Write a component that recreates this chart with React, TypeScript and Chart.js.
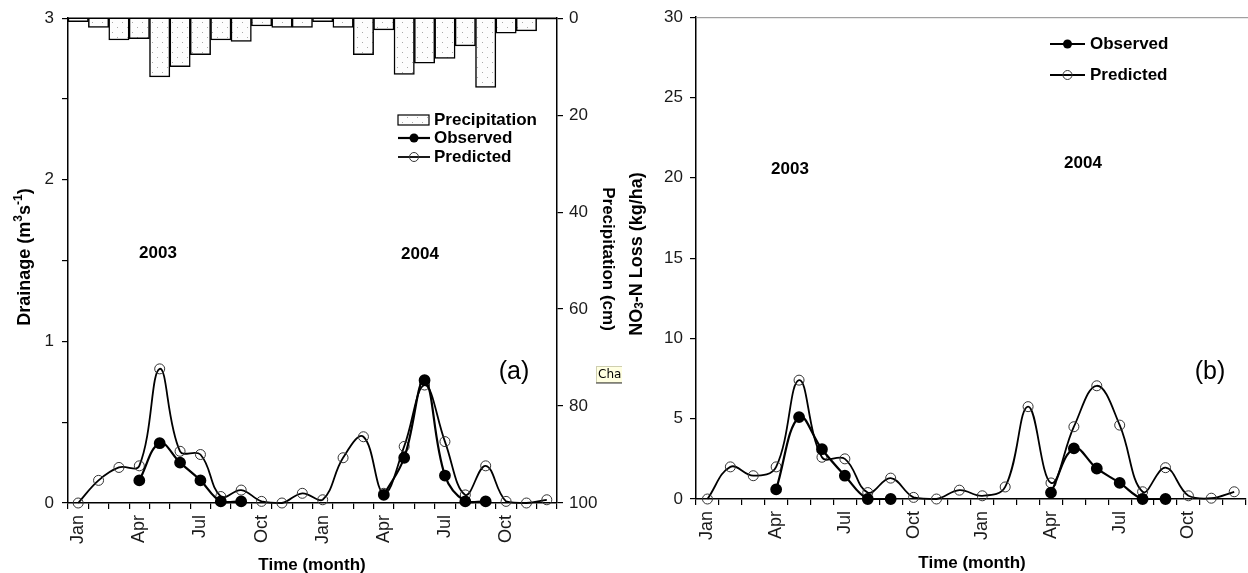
import React, { useEffect, useRef } from 'react';
import { Chart, registerables } from 'chart.js';
Chart.register(...registerables);

const categories = [
  'Jan 2003', 'Feb 2003', 'Mar 2003', 'Apr 2003', 'May 2003', 'Jun 2003',
  'Jul 2003', 'Aug 2003', 'Sep 2003', 'Oct 2003', 'Nov 2003', 'Dec 2003',
  'Jan 2004', 'Feb 2004', 'Mar 2004', 'Apr 2004', 'May 2004', 'Jun 2004',
  'Jul 2004', 'Aug 2004', 'Sep 2004', 'Oct 2004', 'Nov 2004', 'Dec 2004',
];
const tickLabels = [
  'Jan', '', '', 'Apr', '', '', 'Jul', '', '', 'Oct', '', '',
  'Jan', '', '', 'Apr', '', '', 'Jul', '', '', 'Oct', '', '',
];
const precipitation = [0.7, 1.9, 4.5, 4.2, 12.1, 10.0, 7.5, 4.5, 4.8, 1.6, 1.9, 1.9, 0.7, 1.9, 7.5, 2.4, 11.6, 9.3, 8.3, 5.7, 14.3, 3.1, 2.6, 0.2];
const drainageObserved = [null, null, null, 0.14, 0.37, 0.25, 0.14, 0.01, 0.01, null, null, null, null, null, null, 0.05, 0.28, 0.76, 0.17, 0.01, 0.01, null, null, null];
const drainagePredicted = [0.0, 0.14, 0.22, 0.23, 0.83, 0.32, 0.30, 0.04, 0.08, 0.01, 0.0, 0.06, 0.02, 0.28, 0.41, 0.06, 0.35, 0.73, 0.38, 0.05, 0.23, 0.01, 0.0, 0.02];
const no3Observed = [null, null, null, 0.6, 5.1, 3.1, 1.45, 0, 0, null, null, null, null, null, null, 0.4, 3.15, 1.9, 1.0, 0, 0, null, null, null];
const no3Predicted = [0, 2.0, 1.45, 2.0, 7.4, 2.6, 2.5, 0.4, 1.3, 0.1, 0.0, 0.55, 0.2, 0.75, 5.75, 1.0, 4.5, 7.05, 4.6, 0.45, 1.95, 0.2, 0.05, 0.45];

const FONT_FAMILY = '"Liberation Sans", Arial, Helvetica, sans-serif';
const BOLD17 = `bold 17px ${FONT_FAMILY}`;
const BOLD18 = `bold 18px ${FONT_FAMILY}`;
const BOLD12 = `bold 12px ${FONT_FAMILY}`;
const TICK_COLOR = '#1a1a1a';

function makePattern(): CanvasPattern | string {
  const c = document.createElement('canvas');
  c.width = 10;
  c.height = 10;
  const g = c.getContext('2d');
  if (!g) return '#f4f4f4';
  g.fillStyle = '#fdfdfd';
  g.fillRect(0, 0, 10, 10);
  g.fillStyle = '#a8a8a8';
  g.fillRect(2, 2, 1, 1);
  g.fillRect(7, 7, 1, 1);
  const p = g.createPattern(c, 'repeat');
  return p || '#f4f4f4';
}

type Seg = { t: string; f: string; dy?: number };
function drawSegs(ctx: CanvasRenderingContext2D, segs: Seg[], cx: number, cy: number, rot: number) {
  ctx.save();
  ctx.translate(cx, cy);
  ctx.rotate(rot);
  ctx.textBaseline = 'middle';
  ctx.textAlign = 'left';
  ctx.fillStyle = '#000';
  let total = 0;
  for (const s of segs) {
    ctx.font = s.f;
    total += ctx.measureText(s.t).width;
  }
  let x = -total / 2;
  for (const s of segs) {
    ctx.font = s.f;
    ctx.fillText(s.t, x, s.dy || 0);
    x += ctx.measureText(s.t).width;
  }
  ctx.restore();
}

function text(ctx: CanvasRenderingContext2D, t: string, x: number, y: number, font: string, align: CanvasTextAlign = 'center') {
  ctx.save();
  ctx.font = font;
  ctx.fillStyle = '#000';
  ctx.textAlign = align;
  ctx.textBaseline = 'middle';
  ctx.fillText(t, x, y);
  ctx.restore();
}

function legendLine(ctx: CanvasRenderingContext2D, x0: number, x1: number, y: number, filled: boolean) {
  ctx.save();
  ctx.strokeStyle = '#000';
  ctx.lineWidth = filled ? 2.2 : 1.8;
  ctx.beginPath();
  ctx.moveTo(x0, y);
  ctx.lineTo(x1, y);
  ctx.stroke();
  ctx.beginPath();
  ctx.arc((x0 + x1) / 2, y, 4.5, 0, Math.PI * 2);
  if (filled) {
    ctx.fillStyle = '#000';
    ctx.fill();
  } else {
    ctx.lineWidth = 1;
    ctx.strokeStyle = '#333';
    ctx.stroke();
  }
  ctx.restore();
}

export default function App() {
  const leftRef = useRef<HTMLCanvasElement>(null);
  const rightRef = useRef<HTMLCanvasElement>(null);

  useEffect(() => {
    document.body.style.margin = '0';
    const pattern = makePattern();

    const xTickFont = { family: FONT_FAMILY, size: 18 };
    const yTickFont = { family: FONT_FAMILY, size: 17 };

    const xScale = (height: number) => ({
      type: 'category' as const,
      offset: true,
      grid: { offset: true, drawOnChartArea: false, drawTicks: true, tickLength: 6, color: '#000', lineWidth: 1.2 },
      border: { color: '#000', width: 1.5 },
      ticks: {
        autoSkip: false,
        minRotation: 90,
        maxRotation: 90,
        padding: 6,
        color: TICK_COLOR,
        font: xTickFont,
        callback: (_v: any, i: number) => tickLabels[i],
      },
      afterFit: (s: any) => { s.height = height; },
    });

    const leftDecor = {
      id: 'leftDecor',
      afterDraw(chart: any) {
        const ctx: CanvasRenderingContext2D = chart.ctx;
        const ca = chart.chartArea;
        ctx.save();
        ctx.strokeStyle = '#000';
        ctx.lineWidth = 1.5;
        ctx.beginPath();
        ctx.moveTo(ca.left, ca.top);
        ctx.lineTo(ca.right, ca.top);
        ctx.stroke();
        ctx.restore();

        drawSegs(ctx, [
          { t: 'Drainage (m', f: BOLD18 },
          { t: '3', f: BOLD12, dy: -6 },
          { t: 's', f: BOLD18 },
          { t: '-1', f: BOLD12, dy: -6 },
          { t: ')', f: BOLD18 },
        ], 25, 257, -Math.PI / 2);
        drawSegs(ctx, [{ t: 'Precipitation (cm)', f: BOLD17 }], 608, 259, Math.PI / 2);

        text(ctx, '2003', 158, 253, BOLD17);
        text(ctx, '2004', 420, 254, BOLD17);
        text(ctx, '(a)', 514, 372, `25px ${FONT_FAMILY}`);
        text(ctx, 'Time (month)', 312, 565, BOLD17);

        // legend
        ctx.save();
        ctx.fillStyle = pattern as any;
        ctx.fillRect(398, 115, 31, 10);
        ctx.strokeStyle = '#000';
        ctx.lineWidth = 1.2;
        ctx.strokeRect(398, 115, 31, 10);
        ctx.restore();
        text(ctx, 'Precipitation', 434, 120, BOLD17, 'left');
        legendLine(ctx, 398, 430, 138, true);
        text(ctx, 'Observed', 434, 138, BOLD17, 'left');
        legendLine(ctx, 398, 430, 157, false);
        text(ctx, 'Predicted', 434, 157, BOLD17, 'left');

        // small clipped chart tooltip box
        ctx.save();
        ctx.fillStyle = '#ffffe1';
        ctx.fillRect(596, 366, 30, 17);
        ctx.strokeStyle = '#cfcfb0';
        ctx.lineWidth = 1;
        ctx.strokeRect(596.5, 366.5, 30, 16);
        ctx.strokeStyle = '#333';
        ctx.beginPath();
        ctx.moveTo(596, 383);
        ctx.lineTo(622, 383);
        ctx.stroke();
        ctx.restore();
        text(ctx, 'Cha', 598, 375, `12px "DejaVu Sans", Tahoma, sans-serif`, 'left');
      },
    };

    const rightDecor = {
      id: 'rightDecor',
      afterDraw(chart: any) {
        const ctx: CanvasRenderingContext2D = chart.ctx;
        const ca = chart.chartArea;
        ctx.save();
        ctx.strokeStyle = '#8a8a8a';
        ctx.lineWidth = 1;
        ctx.beginPath();
        ctx.moveTo(ca.left, ca.top + 0.5);
        ctx.lineTo(chart.width, ca.top + 0.5);
        ctx.stroke();
        ctx.restore();

        drawSegs(ctx, [
          { t: 'NO', f: BOLD18 },
          { t: '3', f: BOLD12, dy: 3 },
          { t: '-N Loss (kg/ha)', f: BOLD18 },
        ], 15, 254, -Math.PI / 2);

        text(ctx, '2003', 168, 169, BOLD17);
        text(ctx, '2004', 461, 163, BOLD17);
        text(ctx, '(b)', 588, 372, `25px ${FONT_FAMILY}`);
        text(ctx, 'Time (month)', 350, 563, BOLD17);

        legendLine(ctx, 428, 463, 44, true);
        text(ctx, 'Observed', 468, 44, BOLD17, 'left');
        legendLine(ctx, 428, 463, 75, false);
        text(ctx, 'Predicted', 468, 75, BOLD17, 'left');
      },
    };

    const observedStyle = {
      borderColor: '#000',
      borderWidth: 2.2,
      tension: 0.4,
      pointRadius: 4.8,
      pointBackgroundColor: '#000',
      pointBorderColor: '#000',
      spanGaps: false,
      clip: false as any,
    };
    const predictedStyle = {
      borderColor: '#000',
      borderWidth: 1.8,
      tension: 0.4,
      pointRadius: 5,
      pointBackgroundColor: 'rgba(255,255,255,0)',
      pointBorderColor: '#333',
      pointBorderWidth: 1,
      clip: false as any,
    };

    const left = new Chart(leftRef.current as HTMLCanvasElement, {
      type: 'bar',
      data: {
        labels: categories,
        datasets: [
          { type: 'line', label: 'Observed', data: drainageObserved as any, yAxisID: 'y', order: 1, ...observedStyle } as any,
          { type: 'line', label: 'Predicted', data: drainagePredicted, yAxisID: 'y', order: 2, ...predictedStyle } as any,
          {
            type: 'bar', label: 'Precipitation', data: precipitation, yAxisID: 'y2', order: 3,
            backgroundColor: pattern as any, borderColor: '#000', borderWidth: 1.5,
            barPercentage: 1, categoryPercentage: 1,
          } as any,
        ],
      },
      options: {
        animation: false,
        responsive: false,
        devicePixelRatio: 1,
        layout: { padding: { top: 15, left: 0, right: 0, bottom: 0 } },
        plugins: { legend: { display: false }, tooltip: { enabled: false } },
        scales: {
          x: xScale(70) as any,
          y: {
            type: 'linear',
            position: 'left',
            min: 0,
            max: 3,
            grid: { drawOnChartArea: false, tickLength: 6, color: '#000', lineWidth: 1.2 },
            border: { color: '#000', width: 1.5 },
            ticks: {
              stepSize: 0.5,
              padding: 8,
              color: TICK_COLOR,
              font: yTickFont,
              callback: (v: any) => (Number(v) % 1 === 0 ? String(v) : ''),
            },
            afterFit: (s: any) => { s.width = 68; },
          } as any,
          y2: {
            type: 'linear',
            position: 'right',
            reverse: true,
            min: 0,
            max: 100,
            grid: { drawOnChartArea: false, tickLength: 6, color: '#000', lineWidth: 1.2 },
            border: { color: '#000', width: 1.5 },
            ticks: { stepSize: 20, padding: 6, color: TICK_COLOR, font: yTickFont },
            afterFit: (s: any) => { s.width = 65; },
          } as any,
        },
      },
      plugins: [leftDecor],
    });

    const right = new Chart(rightRef.current as HTMLCanvasElement, {
      type: 'line',
      data: {
        labels: categories,
        datasets: [
          { label: 'Observed', data: no3Observed as any, order: 1, ...observedStyle } as any,
          { label: 'Predicted', data: no3Predicted, order: 2, ...predictedStyle } as any,
        ],
      },
      options: {
        animation: false,
        responsive: false,
        devicePixelRatio: 1,
        layout: { padding: { top: 13, left: 0, right: 9, bottom: 0 } },
        plugins: { legend: { display: false }, tooltip: { enabled: false } },
        scales: {
          x: xScale(74) as any,
          y: {
            type: 'linear',
            position: 'left',
            min: 0,
            max: 30,
            grid: { drawOnChartArea: false, tickLength: 6, color: '#000', lineWidth: 1.2 },
            border: { color: '#000', width: 1.5 },
            ticks: { stepSize: 5, padding: 7, color: TICK_COLOR, font: yTickFont },
            afterFit: (s: any) => { s.width = 74; },
          } as any,
        },
      },
      plugins: [rightDecor],
    });

    return () => {
      left.destroy();
      right.destroy();
    };
  }, []);

  return (
    <div style={{ position: 'fixed', left: 0, top: 0, width: 1248, height: 573, overflow: 'hidden', background: '#fff' }}>
      <canvas ref={leftRef} width={622} height={573} style={{ position: 'absolute', left: 0, top: 0, width: 622, height: 573 }} />
      <canvas ref={rightRef} width={640} height={573} style={{ position: 'absolute', left: 622, top: 0, width: 640, height: 573 }} />
    </div>
  );
}
